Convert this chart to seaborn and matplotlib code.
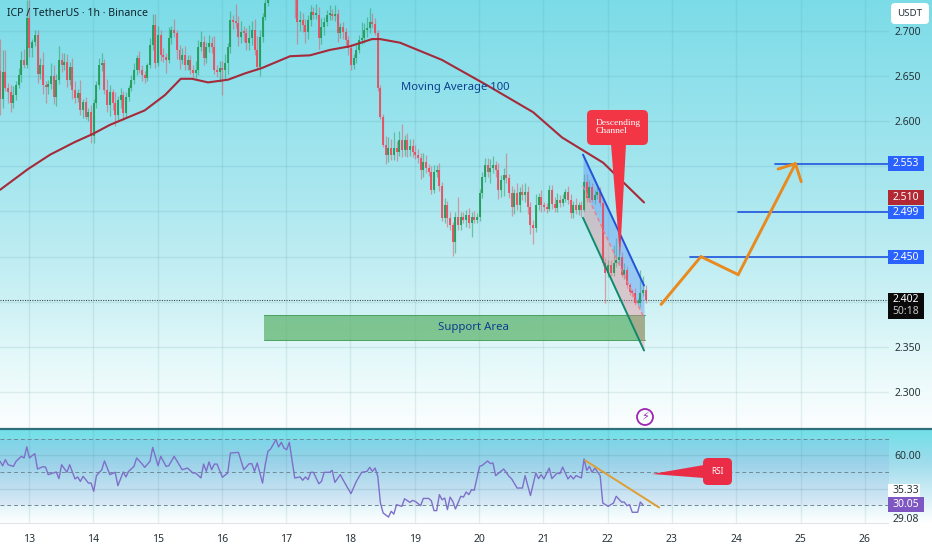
# ==========================================
# ICP / TetherUS 1h chart with RSI panel
# ==========================================

import numpy as np
import pandas as pd
import matplotlib.pyplot as plt
import seaborn as sns
from matplotlib.colors import LinearSegmentedColormap
from matplotlib.patches import Circle, FancyBboxPatch, Polygon

sns.set_theme(style="white")
plt.rcParams["font.family"] = ["Noto Sans", "DejaVu Sans"]

# -----------------------------
# Candle data (closes in USDT, wicks in 1/1000 USDT)
# -----------------------------

first_open = 2.656
first_day = 12.549

close_d12 = [2.625, 2.654, 2.637, 2.632, 2.620, 2.629, 2.640, 2.651, 2.668, 2.662, 2.714]
close_d13 = [2.681, 2.688, 2.696, 2.652, 2.662, 2.640, 2.638, 2.641, 2.650, 2.627, 2.646, 2.668,
             2.662, 2.666, 2.646, 2.660, 2.635, 2.626, 2.631, 2.612, 2.621, 2.605, 2.610, 2.584]
close_d14 = [2.620, 2.640, 2.662, 2.664, 2.635, 2.618, 2.632, 2.620, 2.607, 2.623, 2.629, 2.609,
             2.627, 2.637, 2.646, 2.657, 2.670, 2.657, 2.651, 2.648, 2.662, 2.684, 2.707, 2.664]
close_d15 = [2.696, 2.673, 2.671, 2.668, 2.692, 2.701, 2.698, 2.679, 2.668, 2.673, 2.662, 2.668,
             2.657, 2.653, 2.657, 2.682, 2.688, 2.670, 2.682, 2.687, 2.682, 2.657, 2.654, 2.659]
close_d16 = [2.657, 2.664, 2.682, 2.712, 2.710, 2.709, 2.693, 2.699, 2.698, 2.687, 2.692, 2.701,
             2.679, 2.660, 2.693, 2.715, 2.731, 2.740, 2.745, 2.756, 2.751, 2.745, 2.751, 2.743]
close_d17 = [2.740, 2.748, 2.743, 2.734, 2.710, 2.712, 2.707, 2.699, 2.712, 2.721, 2.718, 2.718,
             2.692, 2.704, 2.710, 2.718, 2.719, 2.717, 2.719, 2.698, 2.704, 2.699, 2.690, 2.681]
close_d18 = [2.662, 2.670, 2.679, 2.690, 2.692, 2.701, 2.703, 2.710, 2.708, 2.698, 2.637, 2.605,
             2.574, 2.563, 2.570, 2.563, 2.570, 2.566, 2.579, 2.568, 2.579, 2.568, 2.572, 2.566]
close_d19 = [2.563, 2.559, 2.546, 2.555, 2.548, 2.544, 2.524, 2.544, 2.546, 2.528, 2.493, 2.507,
             2.493, 2.485, 2.466, 2.494, 2.485, 2.494, 2.491, 2.496, 2.487, 2.494, 2.491, 2.494]
close_d20 = [2.520, 2.538, 2.551, 2.544, 2.548, 2.551, 2.546, 2.524, 2.535, 2.540, 2.537, 2.520,
             2.505, 2.520, 2.507, 2.522, 2.518, 2.522, 2.505, 2.485, 2.482, 2.507, 2.516, 2.507]
close_d21 = [2.505, 2.503, 2.524, 2.508, 2.504, 2.513, 2.509, 2.514, 2.522, 2.513, 2.498, 2.507,
             2.502, 2.507, 2.502, 2.533, 2.515, 2.527, 2.513, 2.518, 2.522, 2.509, 2.443, 2.432]
close_d22 = [2.441, 2.432, 2.443, 2.446, 2.450, 2.430, 2.435, 2.418, 2.411, 2.410, 2.399, 2.399,
             2.410, 2.413, 2.402]

wick_up = [35, 25, 25, 5, 8, 10, 5, 8, 10, 12, 20,
           20, 3, 5, 5, 8, 15, 5, 5, 15, 12, 6, 15, 8, 10, 8, 6, 10, 10, 5, 15, 4, 6, 5, 8,
           5, 5, 8, 12, 5, 12, 8, 4, 12, 5, 8, 5, 5, 3, 5, 8, 3, 8, 5, 5, 3, 8, 12, 12,
           10, 5, 8, 5, 12, 5, 12, 3, 5, 8, 10, 5, 5, 5, 10, 8, 12, 6, 6, 8, 6, 12, 5, 8,
           8, 10, 5, 10, 6, 20, 8, 12, 6, 5, 15, 10, 12, 15, 8, 5, 5, 3, 3, 3, 3, 3, 3, 3,
           5, 5, 5, 8, 3, 10, 8, 6, 6, 8, 5, 12, 8, 10, 6, 5, 10, 5, 10, 5, 5, 6, 4, 4,
           4, 4, 5, 5, 18, 8, 12, 15, 10, 6, 3, 3, 3, 10, 12, 10, 18, 8, 10, 18, 6, 8, 8, 8,
           8, 6, 6, 10, 8, 5, 6, 8, 6, 8, 5, 8, 5, 6, 3, 5, 22, 5, 5, 6, 8, 5, 6, 4,
           5, 6, 8, 8, 10, 10, 5, 8, 5, 8, 25, 5, 8, 5, 12, 5, 8, 10, 6, 5, 5, 12, 5, 8,
           3, 4, 5, 5, 8, 8, 5, 5, 3, 6, 6, 5, 8, 3, 5, 8, 8, 8, 5, 6, 5, 5, 5, 5,
           5, 5, 20, 25, 8, 5, 8, 5, 3, 3, 5, 5, 25, 15, 5]
wick_dn = [18, 10, 3, 12, 10, 5, 5, 3, 8, 3, 3,
           10, 10, 5, 10, 5, 10, 18, 8, 5, 8, 10, 5, 8, 5, 8, 6, 10, 6, 5, 5, 8, 3, 5, 8,
           8, 5, 4, 6, 5, 8, 12, 8, 12, 8, 8, 8, 5, 5, 4, 5, 6, 4, 6, 6, 3, 3, 5, 5,
           3, 6, 5, 15, 4, 6, 5, 10, 10, 5, 5, 5, 5, 5, 5, 6, 4, 8, 5, 5, 6, 5, 5, 10,
           28, 10, 12, 6, 8, 6, 10, 6, 10, 8, 8, 8, 6, 3, 10, 5, 3, 3, 3, 3, 3, 3, 3, 3,
           3, 3, 3, 20, 25, 10, 8, 12, 8, 6, 5, 5, 12, 6, 8, 5, 6, 5, 6, 10, 6, 8, 6, 8,
           5, 4, 6, 3, 4, 5, 8, 5, 5, 3, 3, 3, 3, 10, 8, 6, 6, 10, 5, 8, 6, 8, 6, 6,
           5, 5, 10, 8, 5, 5, 5, 3, 6, 5, 4, 6, 10, 5, 15, 12, 6, 6, 4, 8, 5, 15, 4, 4,
           5, 5, 5, 6, 12, 5, 8, 10, 8, 18, 6, 5, 10, 8, 5, 8, 5, 8, 8, 10, 18, 5, 5, 8,
           5, 5, 3, 5, 5, 5, 4, 3, 4, 5, 5, 5, 5, 6, 8, 3, 5, 5, 3, 5, 4, 3, 3, 33,
           5, 3, 4, 5, 5, 3, 5, 3, 3, 5, 3, 3, 5, 4, 3]

# -----------------------------
# Moving average and RSI
# -----------------------------

ma_days = [12.55, 12.985, 13.33, 13.715, 13.995, 14.26, 14.80, 15.115, 15.36, 15.535, 15.785,
           16.095, 16.36, 16.625, 17.06, 17.37, 17.68, 17.99, 18.335, 18.46, 18.77, 19.42,
           20.12, 20.84, 21.29, 21.93, 22.565]
ma_values = [2.524, 2.547, 2.563, 2.577, 2.586, 2.596, 2.612, 2.629, 2.647, 2.647, 2.643,
             2.646, 2.653, 2.659, 2.672, 2.673, 2.679, 2.683, 2.691, 2.691, 2.687, 2.668,
             2.640, 2.610, 2.582, 2.554, 2.510]

rsi_hours = [0, 1, 2, 3, 5, 6, 8, 9, 10, 11, 12, 13, 14, 16, 17, 18, 21, 22, 23, 25, 26, 28, 29, 30,
             31, 33, 34, 35, 36, 38, 39, 41, 43, 44, 46, 47, 48, 50, 51, 53, 54, 56, 57, 59, 60,
             62, 63, 65, 68, 70, 72, 73, 75, 76, 77, 78, 79, 80, 81, 83, 85, 86, 89, 91, 93, 94,
             95, 96, 98, 99, 100, 101, 103, 104, 105, 106, 107, 108, 110, 112, 113, 114, 115,
             116, 117, 119, 120, 121, 123, 124, 125, 127, 128, 131, 133, 135, 137, 138, 139,
             140, 141, 142, 143, 145, 146, 147, 148, 150, 151, 153, 154, 155, 157, 158, 160,
             161, 162, 163, 164, 165, 166, 167, 168, 169, 170, 172, 173, 174, 175, 176, 177,
             179, 180, 182, 183, 184, 185, 188, 190, 191, 193, 195, 196, 198, 200, 201, 202,
             203, 205, 206, 208, 209, 210, 212, 213, 214, 215, 217, 218, 219, 220, 221, 222,
             224, 225, 227, 229, 230, 232, 233, 234, 235, 236, 238, 239, 240]
rsi_values = [56.5, 53.8, 57.5, 54.4, 53.4, 56.5, 59.5, 58.5, 65.2, 58.5, 59.9, 61.1, 51.8, 53.2,
              53.0, 48.4, 50.0, 46.0, 54.4, 49.8, 54.4, 45.8, 47.0, 44.3, 47.4, 43.3, 43.3, 38.3,
              47.8, 51.4, 56.7, 48.4, 49.8, 41.7, 50.0, 47.0, 50.4, 53.4, 58.5, 55.0, 52.8, 56.5,
              64.9, 53.8, 59.5, 53.4, 53.8, 59.5, 51.4, 52.4, 49.4, 49.4, 46.4, 54.8, 50.4, 56.1,
              51.4, 54.8, 54.8, 46.8, 49.4, 61.5, 61.9, 51.4, 55.0, 55.0, 50.4, 55.5, 43.3, 54.4,
              62.5, 63.9, 69.6, 65.2, 68.0, 64.5, 63.5, 68.0, 46.4, 47.0, 45.0, 47.0, 45.4, 49.8,
              49.8, 42.9, 44.3, 49.8, 49.8, 51.0, 43.7, 48.4, 45.4, 36.9, 44.3, 49.8, 50.4, 52.8,
              50.4, 52.4, 47.4, 31.2, 25.2, 22.7, 26.2, 24.5, 30.2, 29.2, 33.8, 31.6, 32.8, 32.2,
              29.6, 34.0, 34.0, 32.6, 26.6, 26.6, 36.3, 33.2, 34.2, 27.2, 34.8, 32.2, 27.6, 35.3,
              34.8, 37.9, 36.3, 39.3, 38.9, 53.4, 54.0, 56.7, 55.1, 55.5, 47.8, 51.8, 47.4, 45.8,
              40.3, 40.3, 47.8, 35.7, 49.4, 46.0, 48.4, 45.8, 52.4, 46.0, 49.4, 49.0, 53.0, 45.8,
              47.8, 45.8, 47.8, 46.4, 57.9, 51.0, 53.4, 49.8, 52.4, 47.8, 31.2, 29.2, 31.2, 35.3,
              31.8, 31.8, 29.6, 30.2, 25.6, 25.6, 31.8, 30.0]

# -----------------------------
# Drawings and axis labels
# -----------------------------

day_ticks = list(range(13, 27))
bold_days = [16, 23]
price_grid = [2.30, 2.35, 2.40, 2.45, 2.50, 2.55, 2.60, 2.65, 2.70]
price_labels = {2.30: "2.300", 2.35: "2.350", 2.60: "2.600", 2.65: "2.650", 2.70: "2.700"}

support_days = [16.655, 22.58]
support_prices = [2.3576, 2.3853]

channel_days = [21.616, 22.565]
channel_top = [2.563, 2.418]
channel_mid = [2.528, 2.382]
channel_low = [2.493, 2.346]

level_prices = [2.450, 2.499, 2.553]
level_starts = [23.28, 24.03, 24.60]

arrow_days = [22.83, 23.45, 24.03, 24.92]
arrow_prices = [2.397, 2.450, 2.430, 2.553]
arrow_head_days = [24.65, 24.92, 25.01]
arrow_head_prices = [2.547, 2.553, 2.533]

rsi_trend_days = [21.65, 22.80]
rsi_trend_values = [57.0, 28.5]

last_price = 2.402

# -----------------------------
# Build tables
# -----------------------------

closes = np.array(close_d12 + close_d13 + close_d14 + close_d15 + close_d16 + close_d17
                  + close_d18 + close_d19 + close_d20 + close_d21 + close_d22)
opens = np.r_[first_open, closes[:-1]]
candle_days = first_day + np.arange(len(closes)) / 24

candles = pd.DataFrame({"day": candle_days, "open": opens, "close": closes})
candles["high"] = candles[["open", "close"]].max(axis=1) + np.array(wick_up) / 1000
candles["low"] = candles[["open", "close"]].min(axis=1) - np.array(wick_dn) / 1000
candles["body"] = (candles["close"] - candles["open"]).abs().clip(lower=0.0015)
candles["base"] = candles[["open", "close"]].min(axis=1)
candles["color"] = np.where(candles["close"] >= candles["open"], "#1f9a55", "#ea4a5c")

ma_df = pd.DataFrame({"day": ma_days, "value": ma_values})
rsi_df = pd.DataFrame({"day": first_day + np.array(rsi_hours) / 24, "value": rsi_values})

# -----------------------------
# Figure and backgrounds
# -----------------------------

W, H = 932, 550
fig = plt.figure(figsize=(W / 100, H / 100), dpi=100, facecolor="white")

ax_bg = fig.add_axes([0, 0, 1, 1], zorder=0)
ax_bg.axis("off")

main_cmap = LinearSegmentedColormap.from_list(
    "main", [(0, "#7bdce8"), (0.45, "#aae7ef"), (0.72, "#cff2f5"), (0.85, "#e6f9fa"), (1, "#fcfefe")])
rsi_cmap = LinearSegmentedColormap.from_list(
    "rsi", [(0, "#72e0e8"), (0.35, "#9fdcec"), (1, "#ffffff")])
ramp = np.linspace(0, 1, 256).reshape(-1, 1)
ax_bg.imshow(ramp, cmap=main_cmap, extent=[0, W, 428, 0], aspect="auto")
ax_bg.imshow(ramp, cmap=rsi_cmap, extent=[0, W, 523, 430], aspect="auto")
ax_bg.set_xlim(0, W)
ax_bg.set_ylim(H, 0)
ax_bg.plot([0, W], [429.3, 429.3], color="#2f6f7c", lw=1.6)
ax_bg.plot([0, 888], [523, 523], color="#dfe6e8", lw=0.8)

ax = fig.add_axes([0, (H - 428) / H, 889 / W, 428 / H], zorder=1, facecolor="none")
ax_rsi = fig.add_axes([0, (H - 523) / H, 889 / W, 93 / H], zorder=1, facecolor="none")
ax_over = fig.add_axes([0, 0, 1, 1], zorder=2, facecolor="none")
ax_over.set_xlim(0, W)
ax_over.set_ylim(H, 0)
ax_over.axis("off")

for a in [ax, ax_rsi]:
    a.set_xlim(12.549, 26.375)
    a.set_xticks(day_ticks)
    a.grid(axis="x", color="#4f8f9c", alpha=0.14, lw=1)
    sns.despine(ax=a, left=True, bottom=True, right=True, top=True)

# -----------------------------
# Main panel
# -----------------------------

ax.set_ylim(2.2601, 2.7343)
ax.set_yticks(price_grid)
ax.set_yticklabels([price_labels.get(p, "") for p in price_grid])
ax.yaxis.tick_right()
ax.tick_params(axis="y", length=0, pad=4, labelsize=7.5, labelcolor="#26343a")
ax.tick_params(axis="x", length=0, labelbottom=False)
ax.grid(axis="y", color="#4f8f9c", alpha=0.14, lw=1)
ax.set_axisbelow(True)

ax.axhline(last_price, color="#3a4a50", lw=0.8, ls=(0, (1, 1.2)), zorder=1)

ax.vlines(candles["day"], candles["low"], candles["high"], colors=candles["color"],
          lw=0.9, alpha=0.5, zorder=2)
ax.bar(candles["day"], candles["body"], bottom=candles["base"], width=0.031,
       color=candles["color"], alpha=0.88, lw=0, zorder=3)

sns.lineplot(data=ma_df, x="day", y="value", ax=ax, color="#a52a3a", lw=1.5,
             estimator=None, errorbar=None, zorder=4)
ax.set_xlabel("")
ax.set_ylabel("")

ax.fill_between(support_days, support_prices[0], support_prices[1], color="#5fb56f",
                alpha=0.75, lw=0, zorder=2)
ax.plot(support_days, [support_prices[0]] * 2, color="#4c9f60", lw=0.7, zorder=2)
ax.plot(support_days, [support_prices[1]] * 2, color="#4c9f60", lw=0.7, zorder=2)

ax.fill_between(channel_days, channel_mid, channel_top, color="#5a96f5", alpha=0.42, lw=0, zorder=2)
ax.fill_between(channel_days, channel_low, channel_mid, color="#ee7f88", alpha=0.36, lw=0, zorder=2)
ax.plot(channel_days, channel_top, color="#2452d8", lw=1.4, zorder=5)
ax.plot(channel_days, channel_low, color="#0f8a6c", lw=1.4, zorder=5)
ax.plot(channel_days, channel_mid, color="#e87f8c", lw=1, ls=(0, (3, 2)), zorder=4)

for price, start in zip(level_prices, level_starts):
    ax.plot([start, 26.375], [price, price], color="#2a5fe0", lw=1.3, zorder=5)

ax.plot(arrow_days, arrow_prices, color="#e88a1e", lw=2.1, solid_joinstyle="miter", zorder=6)
ax.plot(arrow_head_days, arrow_head_prices, color="#e88a1e", lw=2.1, zorder=6)

ax.text(19.91, 2.3715, "Support Area", ha="center", va="center", fontsize=8.2,
        color="#0d3f8f", zorder=7)
ax.text(19.63, 2.6375, "Moving Average 100", ha="center", va="center", fontsize=8.1,
        color="#0d3f8f", zorder=7)

# -----------------------------
# RSI panel
# -----------------------------

ax_rsi.set_ylim(19.1, 75.45)
ax_rsi.set_yticks([40, 60])
ax_rsi.set_yticklabels(["", "60.00"])
ax_rsi.yaxis.tick_right()
ax_rsi.tick_params(axis="y", length=0, pad=4, labelsize=7.5, labelcolor="#26343a")
ax_rsi.grid(axis="y", color="#4f7f8c", alpha=0.18, lw=1)
ax_rsi.set_axisbelow(True)
ax_rsi.axhspan(30, 70, color="#6a5acd", alpha=0.07, lw=0, zorder=0)
for level in [70, 50, 30]:
    ax_rsi.axhline(level, color="#6f8a94", lw=0.7, ls=(0, (4, 3)), zorder=1)

sns.lineplot(data=rsi_df, x="day", y="value", ax=ax_rsi, color="#7e6fc8", lw=1.0,
             estimator=None, errorbar=None, zorder=3)
ax_rsi.plot(rsi_trend_days, rsi_trend_values, color="#dd9f35", lw=1.4, zorder=4)

ax_rsi.set_xticks(day_ticks)
ax_rsi.set_xticklabels([str(d) for d in day_ticks])
ax_rsi.tick_params(axis="x", length=0, pad=8, labelsize=7.5, labelcolor="#26343a")
for tick, d in zip(ax_rsi.get_xticklabels(), day_ticks):
    if d in bold_days:
        tick.set_fontweight("bold")
ax_rsi.set_xlabel("")
ax_rsi.set_ylabel("")

# -----------------------------
# Overlay: title, callouts, price labels
# -----------------------------

ax_over.text(7, 14, "ICP / TetherUS · 1h · Binance", ha="left", va="center", fontsize=7.6,
             color="#10242c")


def rounded_box(x0, y0, x1, y1, color, radius=4):
    ax_over.add_patch(FancyBboxPatch((x0 + radius, y0 + radius), x1 - x0 - 2 * radius,
                                     y1 - y0 - 2 * radius,
                                     boxstyle=f"round,pad={radius},rounding_size={radius}",
                                     fc=color, ec="none", zorder=5))


# Descending channel callout
rounded_box(587, 110, 648, 145, "#f23645", radius=5)
ax_over.add_patch(Polygon([(611, 144), (626, 144), (620, 257)], fc="#f23645", ec="none", zorder=5))
ax_over.text(596, 127, "Descending\nChannel", ha="left", va="center", fontsize=6.8, color="white",
             family="Liberation Serif", linespacing=1.0, zorder=6)

# RSI callout
rounded_box(703, 458, 732, 485, "#ea2c46", radius=5)
ax_over.add_patch(Polygon([(704, 465), (704, 478), (652, 474)], fc="#ea2c46", ec="none", zorder=5))
ax_over.text(717, 471, "RSI", ha="center", va="center", fontsize=6, color="white", zorder=6)

# Lightning icon
ax_over.add_patch(Circle((645, 417), 8, fc="none", ec="#9c27b0", lw=1.3, zorder=5))
ax_over.text(645, 417, "⚡", ha="center", va="center", fontsize=8, color="#9c27b0",
             family="DejaVu Sans", zorder=6)

# USDT box
rounded_box(891, 3, 929, 24, "white", radius=4)
ax_over.text(910, 14, "USDT", ha="center", va="center", fontsize=7, color="#26343a", zorder=6)


def price_box(y0, y1, text, color, text_color="white", x1=924):
    ax_over.add_patch(plt.Rectangle((888, y0), x1 - 888, y1 - y0, fc=color, ec="none", zorder=5))
    ax_over.text(906, (y0 + y1) / 2, text, ha="center", va="center", fontsize=7.5,
                 color=text_color, zorder=6)


price_box(156, 171, "2.553", "#2962ff")
price_box(190, 205, "2.510", "#b22833")
price_box(206, 219, "2.499", "#2962ff")
price_box(250, 264, "2.450", "#2962ff")
ax_over.add_patch(plt.Rectangle((888, 293), 36, 26, fc="#0a0a0a", ec="none", zorder=5))
ax_over.text(906, 300, "2.402", ha="center", va="center", fontsize=7.5, color="white", zorder=6)
ax_over.text(906, 312, "50:18", ha="center", va="center", fontsize=7.5, color="#c8c8c8", zorder=6)

price_box(484, 497, "35.33", "white", "#26343a", x1=920)
price_box(497, 512, "30.05", "#7e57c2")
ax_over.text(906, 520, "29.08", ha="center", va="center", fontsize=7.5, color="#26343a", zorder=6)

fig.savefig("out.png", dpi=100)
